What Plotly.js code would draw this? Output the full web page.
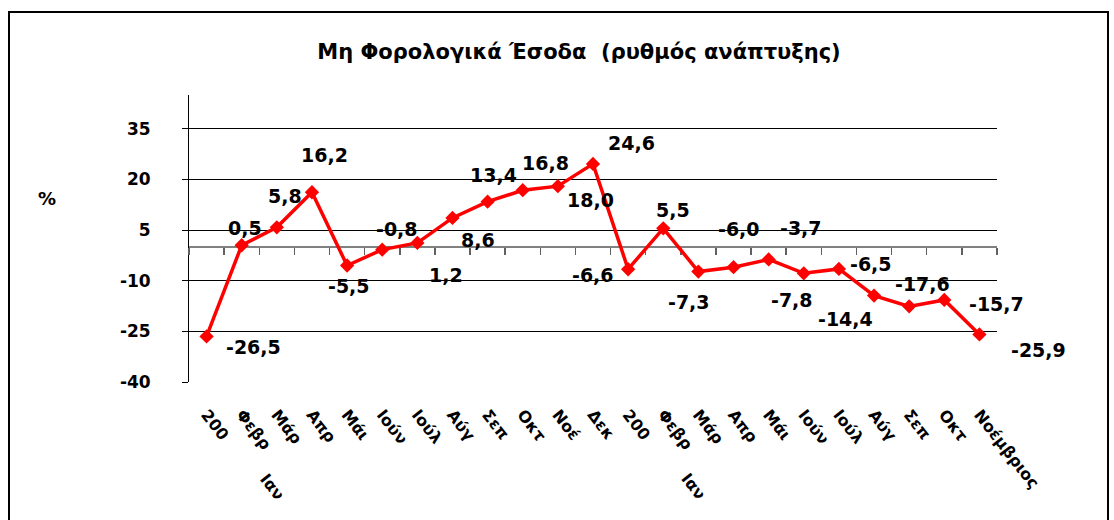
<!DOCTYPE html>
<html>
<head>
<meta charset="utf-8">
<script src="https://cdn.plot.ly/plotly-3.0.1.min.js"></script>
<style>html,body{margin:0;padding:0;background:#fff;}#chart{width:1114px;height:520px;}</style>
</head>
<body>
<div id="chart"></div>
<script>
// ---- data ----
const months = ['Ιανουάριος 2004','Φεβρουάριος 2004','Μάρτιος 2004','Απρίλιος 2004','Μάιος 2004','Ιούνιος 2004','Ιούλιος 2004','Αύγουστος 2004','Σεπτέμβριος 2004','Οκτώβριος 2004','Νοέμβριος 2004','Δεκέμβριος 2004',
                'Ιανουάριος 2005','Φεβρουάριος 2005','Μάρτιος 2005','Απρίλιος 2005','Μάιος 2005','Ιούνιος 2005','Ιούλιος 2005','Αύγουστος 2005','Σεπτέμβριος 2005','Οκτώβριος 2005','Νοέμβριος 2005'];
const tickText = ['200','Φεβρ','Μάρ','Απρ','Μάι','Ιούν','Ιούλ','Αύγ','Σεπ','Οκτ','Νοέ','Δεκ',
                  '200','Φεβρ','Μάρ','Απρ','Μάι','Ιούν','Ιούλ','Αύγ','Σεπ','Οκτ','Νοέμβριος'];
const growth = [-26.5, 0.5, 5.8, 16.2, -5.5, -0.8, 1.2, 8.6, 13.4, 16.8, 18.0, 24.6,
                -6.6, 5.5, -7.3, -6.0, -3.7, -7.8, -6.5, -14.4, -17.6, -15.7, -25.9];
const yTicks = [-40, -25, -10, 5, 20, 35];
const yTickText = ['-40', '-25', '-10', '5', '20', '35'];
const yearSubLabel = 'Ιαν';
const titleText = 'Μη Φορολογικά Έσοδα  (ρυθμός ανάπτυξης)';

// ---- label placement (pixel offsets from each point: right, down) ----
const labelOffsets = [[47,11],[3,-17],[8,-31],[13,-37],[2,20],[15,-21],[29,32],[26,22],[6,-27],[23,-27],[33,14],[38,-21],
                      [-35,6],[10,-18],[-9,30],[5,-38],[32,-31],[-12,27],[32,-5],[-29,23],[13,-22],[52,4],[59,16]];

// ---- geometry ----
const W = 1114, H = 520;
const M = {l: 189, r: 117, t: 95, b: 138};
const plotW = W - M.l - M.r, plotH = H - M.t - M.b;
const pxX = px => (px - M.l) / plotW;
const pxY = py => (H - M.b - py) / plotH;
const FONT = 'DejaVu Sans';

const fmt = v => v.toFixed(1).replace('.', ',');

const annotations = growth.map((v, i) => ({
  x: months[i], y: v, xref: 'x2', yref: 'y',
  text: fmt(v), showarrow: false,
  xanchor: 'center', yanchor: 'middle',
  xshift: labelOffsets[i][0], yshift: -labelOffsets[i][1],
  font: {family: FONT, size: 19, color: '#000', weight: 700}
}));
// second-line "Ιαν" fragments under the year labels
[1, 13].forEach(i => annotations.push({
  x: months[i], xref: 'x2', y: pxY(487), yref: 'paper',
  text: yearSubLabel, showarrow: false, textangle: 52,
  xanchor: 'center', yanchor: 'middle', xshift: 30,
  font: {family: FONT, size: 16, color: '#000', weight: 700}
}));
annotations.push({
  x: pxX(47), y: pxY(198), xref: 'paper', yref: 'paper',
  text: '%', showarrow: false, xanchor: 'center', yanchor: 'middle',
  font: {family: FONT, size: 18, color: '#000', weight: 700}
});

const traces = [
  { // carries the bottom label axis
    x: months, y: growth, xaxis: 'x', yaxis: 'y', type: 'scatter', mode: 'lines',
    line: {width: 0, color: 'rgba(0,0,0,0)'}, hoverinfo: 'skip', showlegend: false
  },
  {
    x: months, y: growth, xaxis: 'x2', yaxis: 'y', type: 'scatter', mode: 'lines+markers',
    line: {color: '#FF0000', width: 3.5},
    marker: {symbol: 'diamond', size: 11, color: '#FF0000'},
    showlegend: false, hoverinfo: 'skip'
  }
];

const catRange = [-0.5, months.length - 0.5];

const layout = {
  width: W, height: H,
  margin: M,
  paper_bgcolor: '#fff', plot_bgcolor: '#fff',
  showlegend: false,
  title: {
    text: titleText, x: 579 / W, xanchor: 'center', y: 1 - 52 / H, yanchor: 'middle',
    font: {family: FONT, size: 21, color: '#000', weight: 700}
  },
  xaxis: {
    type: 'category', categoryorder: 'array', categoryarray: months, range: catRange,
    tickmode: 'array', tickvals: months, ticktext: tickText,
    tickangle: 52, ticks: '', showgrid: false, zeroline: false,
    showline: true, linecolor: '#fff', linewidth: 3,
    ticklabelstandoff: 14,
    tickfont: {family: FONT, size: 16, color: '#000', weight: 700}
  },
  xaxis2: {
    type: 'category', categoryorder: 'array', categoryarray: months, range: catRange,
    overlaying: 'x', anchor: 'free', position: 40 / 85, side: 'bottom',
    showticklabels: false, showgrid: false, zeroline: false,
    showline: true, linecolor: '#808080', linewidth: 2,
    ticks: 'outside', ticklen: 7, tickwidth: 1.5, tickcolor: '#606060',
    tickson: 'boundaries', layer: 'below traces'
  },
  yaxis: {
    range: [-40, 45], tickmode: 'array', tickvals: yTicks, ticktext: yTickText,
    ticks: 'outside', ticklen: 6, tickcolor: '#000', tickwidth: 1,
    showline: true, linecolor: '#000', linewidth: 1,
    showgrid: true, gridcolor: '#000', gridwidth: 1, zeroline: false,
    ticklabelstandoff: 28,
    tickfont: {family: FONT, size: 17, color: '#000', weight: 700},
    layer: 'below traces'
  },
  shapes: [{
    type: 'rect', xref: 'paper', yref: 'paper',
    x0: pxX(9), x1: pxX(1108), y0: pxY(530), y1: pxY(12),
    line: {color: '#000', width: 2}, fillcolor: 'rgba(0,0,0,0)', layer: 'above'
  }],
  annotations: annotations
};

Plotly.newPlot('chart', traces, layout, {displayModeBar: false, staticPlot: true});
</script>
</body>
</html>
